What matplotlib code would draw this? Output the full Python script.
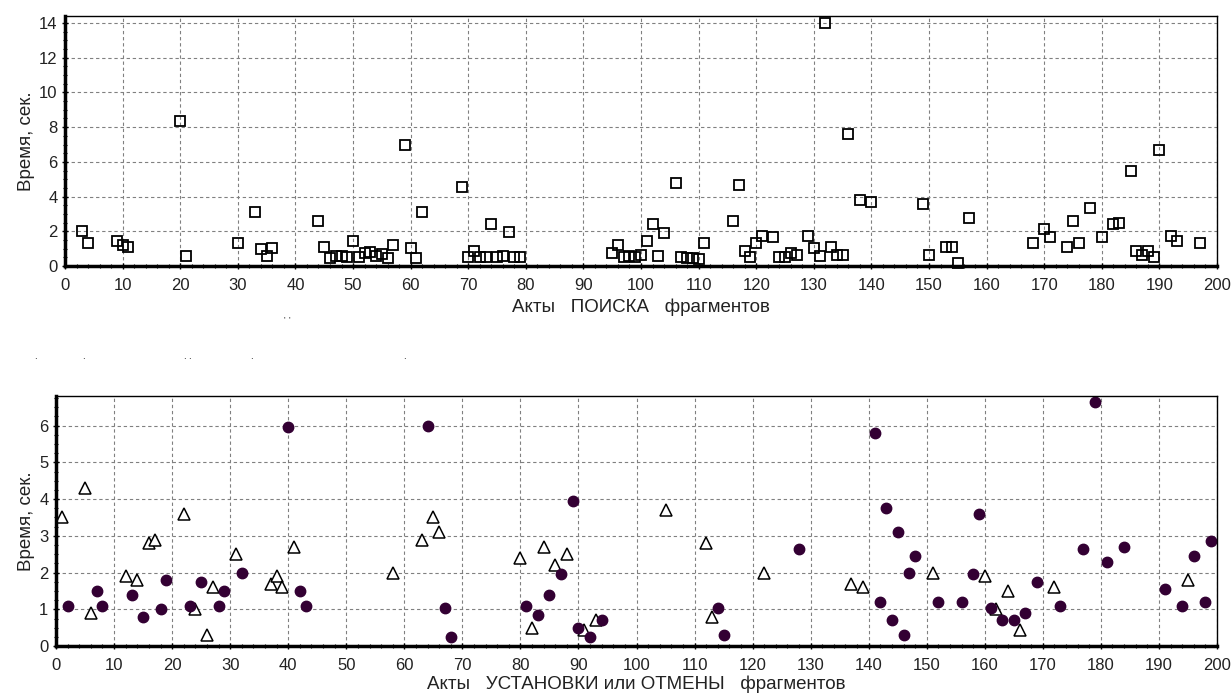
import numpy as np
import matplotlib
matplotlib.use('Agg')
from matplotlib import pyplot as plt
import matplotlib.ticker as ticker

plt.rcParams['font.family'] = ['Liberation Sans', 'DejaVu Sans']

# search acts (top panel)
search_x = [3, 4, 9, 10, 11, 20, 21, 30, 33, 34, 35, 36, 44, 45, 46, 47, 48, 49, 50, 51,
            52, 53, 54, 55, 56, 57, 59, 60, 61, 62, 69, 70, 71, 72, 73, 74, 75, 76, 77, 78,
            79, 95, 96, 97, 98, 99, 100, 101, 102, 103, 104, 106, 107, 108, 109, 110, 111,
            116, 117, 118, 119, 120, 121, 123, 124, 125, 126, 127, 129, 130, 131, 132, 133,
            134, 135, 136, 138, 140, 149, 150, 153, 154, 155, 157, 168, 170, 171, 174, 175,
            176, 178, 180, 182, 183, 185, 186, 187, 188, 189, 190, 192, 193, 197]
search_t = [2.0, 1.3, 1.45, 1.2, 1.1, 8.35, 0.6, 1.35, 3.1, 1.0, 0.6, 1.05, 2.6, 1.1, 0.45,
            0.55, 0.6, 0.5, 1.45, 0.5, 0.75, 0.8, 0.6, 0.7, 0.45, 1.2, 7.0, 1.05, 0.45, 3.1,
            4.55, 0.5, 0.85, 0.5, 0.5, 2.4, 0.5, 0.6, 1.95, 0.5, 0.5, 0.75, 1.2, 0.5, 0.55,
            0.5, 0.65, 1.45, 2.4, 0.6, 1.9, 4.8, 0.5, 0.45, 0.45, 0.4, 1.3, 2.6, 4.65, 0.85,
            0.5, 1.35, 1.7, 1.65, 0.5, 0.5, 0.75, 0.65, 1.7, 1.05, 0.6, 14.0, 1.1, 0.65, 0.65,
            7.6, 3.8, 3.7, 3.6, 0.65, 1.1, 1.1, 0.15, 2.75, 1.3, 2.15, 1.65, 1.1, 2.6, 1.3,
            3.35, 1.65, 2.4, 2.5, 5.5, 0.85, 0.65, 0.85, 0.5, 6.7, 1.75, 1.45, 1.35]

# set / cancel acts (bottom panel)
set_x = [2, 7, 8, 13, 15, 18, 19, 23, 25, 28, 29, 32, 40, 42, 43, 64, 67, 68, 81, 83, 85,
         87, 89, 90, 92, 94, 114, 115, 128, 141, 142, 143, 144, 145, 146, 147, 148, 152,
         156, 158, 159, 161, 163, 165, 167, 169, 173, 177, 179, 181, 184, 191, 194, 196,
         198, 199]
set_t = [1.1, 1.5, 1.1, 1.4, 0.8, 1.0, 1.8, 1.1, 1.75, 1.1, 1.5, 2.0, 5.95, 1.5, 1.1, 6.0,
         1.05, 0.25, 1.1, 0.85, 1.4, 1.95, 3.95, 0.5, 0.25, 0.7, 1.05, 0.3, 2.65, 5.8, 1.2,
         3.75, 0.7, 3.1, 0.3, 2.0, 2.45, 1.2, 1.2, 1.95, 3.6, 1.05, 0.7, 0.7, 0.9, 1.75, 1.1,
         2.65, 6.65, 2.3, 2.7, 1.55, 1.1, 2.45, 1.2, 2.85]
cancel_x = [1, 5, 6, 12, 14, 16, 17, 22, 24, 26, 27, 31, 37, 38, 39, 41, 58, 63, 65, 66, 80,
            82, 84, 86, 88, 91, 93, 105, 112, 113, 122, 137, 139, 151, 160, 162, 164, 166,
            172, 195]
cancel_t = [3.5, 4.3, 0.9, 1.9, 1.8, 2.8, 2.9, 3.6, 1.0, 0.3, 1.6, 2.5, 1.7, 1.9, 1.6, 2.7,
            2.0, 2.9, 3.5, 3.1, 2.4, 0.5, 2.7, 2.2, 2.5, 0.45, 0.7, 3.7, 2.8, 0.8, 2.0, 1.7,
            1.6, 2.0, 1.9, 1.0, 1.5, 0.45, 1.6, 1.8]

fig = plt.figure(figsize=(12.32, 7), dpi=100)
ax1 = fig.add_axes([0.0528, 0.62, 0.9350, 0.357])
ax2 = fig.add_axes([0.0455, 0.077, 0.9423, 0.357])


def style(ax, ymax, ystep, yminor):
    ax.set_xlim(0, 200)
    ax.set_ylim(0, ymax)
    ax.xaxis.set_major_locator(ticker.MultipleLocator(10))
    ax.xaxis.set_minor_locator(ticker.MultipleLocator(2))
    ax.yaxis.set_major_locator(ticker.MultipleLocator(ystep))
    ax.yaxis.set_minor_locator(ticker.MultipleLocator(yminor))
    ax.grid(True, which='major', color='#808080', linestyle=(0, (3, 2.5)), linewidth=0.8)
    ax.set_axisbelow(True)
    ax.tick_params(which='major', direction='inout', length=5, width=1,
                   labelsize=12, labelcolor='#222222', pad=6)
    ax.tick_params(axis='y', which='major', pad=3)
    ax.tick_params(which='minor', direction='inout', length=3.5, width=0.8)
    for s in ['left', 'bottom']:
        ax.spines[s].set_linewidth(2.5)
    for s in ['top', 'right']:
        ax.spines[s].set_linewidth(1)
    ax.set_ylabel("Время, сек.", fontsize=13.5, color='#222222', labelpad=3)


style(ax1, 14.4, 2, 0.5)
ax1.plot(search_x, search_t, 's', markersize=7, markerfacecolor='none',
         markeredgecolor='black', markeredgewidth=1.3, clip_on=False)
ax1.set_xlabel("Акты   ПОИСКА   фрагментов", fontsize=13.5, color='#222222', labelpad=4)

style(ax2, 6.8, 1, 0.25)
ax2.plot(cancel_x, cancel_t, '^', markersize=9, markerfacecolor='white',
         markeredgecolor='black', markeredgewidth=1.1, clip_on=False)
ax2.plot(set_x, set_t, 'o', markersize=7.5, markerfacecolor='#330033',
         markeredgecolor='#330033', clip_on=False)
ax2.set_xlabel("Акты   УСТАНОВКИ или ОТМЕНЫ   фрагментов", fontsize=13.5,
               color='#222222', labelpad=2)

# stray dots between the panels
for px in [35, 83, 184, 189, 251, 404]:
    fig.text(px / 1232, 1 - 356 / 700, ".", fontsize=7, ha='center', va='center')
fig.text(284 / 1232, 1 - 320 / 700, "'", fontsize=6, ha='center', va='center')
fig.text(289 / 1232, 1 - 320 / 700, "'", fontsize=6, ha='center', va='center')

plt.savefig("out.png", dpi=100)
